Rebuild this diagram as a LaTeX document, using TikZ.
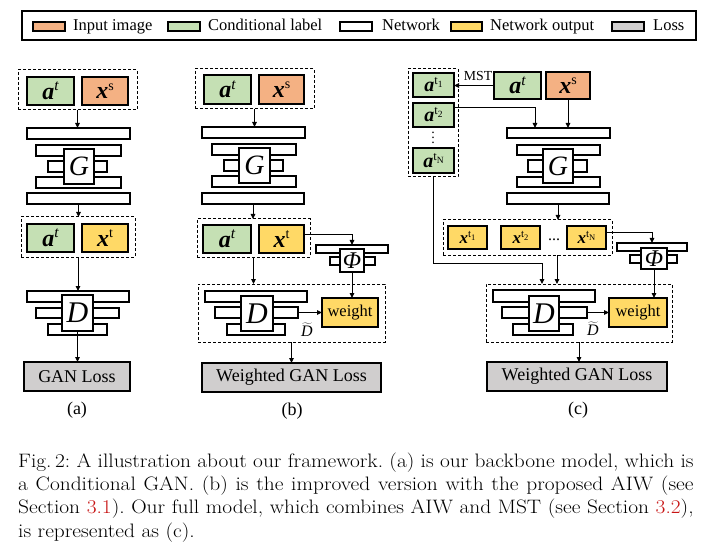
\documentclass[tikz,border=0pt]{standalone}
\usepackage{fontspec}
\newfontfamily\tms{Liberation Serif}
\usetikzlibrary{arrows.meta}
\definecolor{inorange}{HTML}{F4B183}
\definecolor{condgreen}{HTML}{C5E0B4}
\definecolor{netyellow}{HTML}{FFD966}
\definecolor{lossgrey}{HTML}{D0CECE}
\definecolor{linkred}{RGB}{200,20,20}
% box from corners: [style]{name}{x1}{y1}{x2}{y2}{text}
\newcommand\bx[7][]{\node[rect,#1,minimum width={(#5-#3)*1pt},minimum height={(#6-#4)*1pt}] (#2) at ({(#3+#5)/2},{(#4+#6)/2}) {#7};}
\newcommand\lblat{{\fontsize{24}{26}\selectfont\bfseries\itshape a}\raisebox{8.5pt}{\fontsize{15.5}{16}\selectfont\itshape t}}
\newcommand\lblxs{{\fontsize{24}{26}\selectfont\bfseries\itshape x}\raisebox{8.5pt}{\fontsize{14}{15}\selectfont s}}
\newcommand\lblxt{{\fontsize{24}{26}\selectfont\bfseries\itshape x}\raisebox{8.5pt}{\fontsize{14}{15}\selectfont t}}
\newcommand\lblati[1]{{\fontsize{20}{22}\selectfont\bfseries\itshape a}\raisebox{7pt}{\fontsize{12.5}{13}\selectfont t}\raisebox{4pt}{\fontsize{9.5}{10}\selectfont #1}}
\newcommand\lblxti[1]{{\fontsize{17}{19}\selectfont\bfseries\itshape x}\raisebox{6pt}{\fontsize{11}{12}\selectfont t}\raisebox{3.5pt}{\fontsize{8.5}{9}\selectfont #1}}
\newcommand\mydots{\vbox{\baselineskip=5pt\lineskiplimit=0pt\hbox{.}\hbox{.}\hbox{.}}}
\tikzset{
  rect/.style={draw, line width=1.2pt, inner sep=0pt, outer sep=0pt, font=\tms},
  dbox/.style={draw, dash pattern=on 3pt off 2pt, line width=1pt, inner sep=0pt, outer sep=0pt},
  arr/.style={-{Triangle[length=5pt,width=4.5pt]}, line width=1pt},
  lgtext/.style={inner sep=0pt, anchor=base west, font=\tms\fontsize{16.5}{18}\selectfont},
  gfont/.style={font=\tms\itshape\fontsize{28}{30}\selectfont},
  dfont/.style={font=\tms\itshape\fontsize{30}{32}\selectfont},
  pfont/.style={font=\tms\itshape\fontsize{24}{26}\selectfont},
  wfont/.style={font=\tms\fontsize{16.5}{18}\selectfont},
  lfont/.style={font=\tms\fontsize{18}{20}\selectfont},
  sublbl/.style={inner sep=0pt, font=\tms\fontsize{18}{20}\selectfont},
  dtl/.style={inner sep=0pt, font=\tms\itshape\fontsize{16}{18}\selectfont},
}
\begin{document}
\begin{tikzpicture}[x=1pt,y=-1pt]
\useasboundingbox[fill=white] (0,0) rectangle (714,545);
% ---------------- legend
\bx[line width=1.3pt]{leg}{22}{11}{696}{40}{}
\bx[fill=inorange]{sw1}{33}{22}{65}{31}{}
\bx[fill=condgreen]{sw2}{168}{22}{200}{31}{}
\bx[fill=white]{sw3}{340}{22}{372}{31}{}
\bx[fill=netyellow]{sw4}{451}{22}{482}{31}{}
\bx[fill=lossgrey]{sw5}{612}{22}{644}{31}{}
\node[lgtext] (lt1) at (73,31) {Input image};
\node[lgtext] (lt2) at (208,31) {Conditional label};
\node[lgtext] (lt3) at (382,31) {Network};
\node[lgtext] (lt4) at (490,31) {Network output};
\node[lgtext] (lt5) at (653,31) {Loss};
% ---------------- panel (a)
\bx[dbox]{aI}{18}{70}{137}{110}{}
\bx[fill=condgreen]{aA}{27}{77}{74}{105}{\lblat}
\bx[fill=inorange]{aX}{82}{77}{128}{105}{\lblxs}
\bx{aG1}{27}{128}{130}{139}{}
\bx{aG2}{36}{145}{121}{156}{}
\bx{aG3}{48}{161}{107}{172}{}
\bx{aG4}{36}{177}{121}{188}{}
\bx{aG5}{27}{193}{130}{204}{}
\bx[fill=white,gfont]{aG}{64}{149}{94}{184}{G}
\draw[arr] (aI.south) -- (aI.south |- aG1.north);
\bx[dbox]{aO}{21}{217}{135}{257}{}
\draw[arr] (aG5.south) -- (aG5.south |- aO.north);
\bx[fill=condgreen]{aA2}{27}{224}{74}{252}{\lblat}
\bx[fill=netyellow]{aX2}{82}{224}{128}{252}{\lblxt}
\bx{aD1}{27}{291}{129}{302}{}
\bx{aD2}{36}{308}{119}{318}{}
\bx{aD3}{48}{324}{107}{335}{}
\bx[fill=white,dfont]{aD}{62}{295}{93}{331}{D}
\draw[arr] (aO.south) -- (aO.south |- aD1.north);
\bx[fill=lossgrey,lfont]{aL}{24}{362}{130}{391}{GAN Loss}
\draw[arr] (aD.south) -- (aD.south |- aL.north);
\node[sublbl] (aCap) at (77,410) {(a)};
% ---------------- panel (b)
\bx[dbox]{bI}{195}{69}{314}{109}{}
\bx[fill=condgreen]{bA}{204}{75}{251}{104}{\lblat}
\bx[fill=inorange]{bX}{259}{75}{304}{104}{\lblxs}
\bx{bG1}{202}{127}{305}{138}{}
\bx{bG2}{212}{144}{296}{155}{}
\bx{bG3}{224}{160}{283}{171}{}
\bx{bG4}{212}{176}{296}{187}{}
\bx{bG5}{202}{193}{304}{204}{}
\bx[fill=white,gfont]{bG}{239}{148}{270}{183}{G}
\draw[arr] (bI.south) -- (bI.south |- bG1.north);
\bx[dbox]{bO}{197}{219}{310}{257}{}
\draw[arr] (bG5.south) -- (bG5.south |- bO.north);
\bx[fill=condgreen]{bA2}{203}{225}{251}{253}{\lblat}
\bx[fill=netyellow]{bX2}{259}{225}{304}{253}{\lblxt}
\bx{bP1}{316}{245}{388}{253}{}
\bx{bP2}{330}{257}{375}{265}{}
\bx[fill=white,pfont]{bP}{340}{249}{364}{272}{Φ}
\draw[arr] ([yshift=4pt]bX2.east) -| (bP1.north);
\bx[dbox]{bB}{198}{284}{385}{342}{}
\draw[arr] (bO.south) -- (bO.south |- bB.north);
\bx{bD1}{205}{291}{307}{302}{}
\bx{bD2}{215}{307}{298}{318}{}
\bx{bD3}{227}{324}{285}{335}{}
\bx[fill=white,dfont]{bD}{241}{296}{273}{331}{D}
\bx[fill=netyellow,wfont]{bW}{322}{298}{378}{327}{weight}
\draw[arr] (bD2.east) -- (bW.west);
\draw[arr] (bP.south) -- (bP.south |- bW.north);
\node[dtl] (bDt) at (307,330) {$\widetilde{\mbox{\tms\itshape D}}$};
\bx[fill=lossgrey,lfont]{bL}{202}{363}{381}{392}{Weighted GAN Loss}
\draw[arr] (bB.south) -- (bB.south |- bL.north);
\node[sublbl] (bCap) at (292,411) {(b)};
% ---------------- panel (c)
\bx[dbox]{cI}{408}{69}{458}{177}{}
\bx[fill=condgreen]{c1}{413}{73}{454}{97}{\lblati{1}}
\bx[fill=condgreen]{c2}{413}{103}{454}{127}{\lblati{2}}
\bx[fill=condgreen]{cN}{413}{148}{454}{173}{\lblati{N}}
\node[inner sep=0pt, font=\tms\fontsize{14}{15}\selectfont] (cvd) at (433,138) {\mydots};
\bx[fill=condgreen]{cA}{494}{72}{541}{99}{\lblat}
\bx[fill=inorange]{cX}{546}{72}{590}{99}{\lblxs}
\draw[arr] (cA.west) -- (cA.west -| c1.east);
\node[inner sep=0pt, font=\tms\fontsize{13.8}{15}\selectfont] (mst) at (478,76) {MST};
\bx{cG1}{507}{128}{610}{138}{}
\bx{cG2}{517}{145}{600}{155}{}
\bx{cG3}{528}{160}{587}{172}{}
\bx{cG4}{517}{177}{600}{187}{}
\bx{cG5}{507}{193}{609}{204}{}
\bx[fill=white,gfont]{cG}{543}{149}{573}{183}{G}
\coordinate (cj1) at (535,128);
\draw[arr] ([yshift=7pt]c2.east) -| (cj1);
\draw[arr] (cX.south) -- (cX.south |- cG1.north);
\bx[dbox]{cO}{443}{220}{612}{255}{}
\draw[arr] (cG5.south) -- (cG5.south |- cO.north);
\bx[fill=netyellow]{cx1}{448}{226}{487}{249}{\lblxti{1}}
\bx[fill=netyellow]{cx2}{501}{226}{540}{249}{\lblxti{2}}
\bx[fill=netyellow]{cxN}{567}{226}{606}{249}{\lblxti{N}}
\node[inner sep=0pt, font=\tms\fontsize{16}{18}\selectfont] (cdd) at (554,240) {...};
\bx{cP1}{617}{243}{687}{251}{}
\bx{cP2}{630}{255}{677}{263}{}
\bx[fill=white,pfont]{cP}{641}{248}{667}{269}{Φ}
\draw[arr] ([yshift=4.5pt]cxN.east) -| (cP1.north);
\bx[dbox]{cB}{486}{284}{672}{342}{}
\coordinate (cj2) at (542,263);
\draw[arr] (cI.south) |- (cj2) -- (cj2 |- cB.north);
\coordinate (cj3) at (557,255);
\draw[arr] (cj3) -- (cj3 |- cB.north);
\bx{cD1}{493}{290}{595}{302}{}
\bx{cD2}{502}{307}{587}{318}{}
\bx{cD3}{513}{324}{573}{335}{}
\bx[fill=white,dfont]{cD}{529}{296}{559}{331}{D}
\bx[fill=netyellow,wfont]{cW}{609}{298}{667}{327}{weight}
\draw[arr] (cD2.east) -- (cW.west);
\draw[arr] (cP.south) -- (cP.south |- cW.north);
\node[dtl] (cDt) at (593,329) {$\widetilde{\mbox{\tms\itshape D}}$};
\bx[fill=lossgrey,lfont]{cL}{487}{362}{667}{391}{Weighted GAN Loss}
\draw[arr] (cB.south) -- (cB.south |- cL.north);
\node[sublbl] (cCap) at (578,410) {(c)};
% ---------------- caption
\node[anchor=north west, inner sep=0pt] (cap) at (18,452.5)
{\scalebox{1.1}[1]{\parbox[t]{614pt}{\fontsize{19.45}{23.35}\selectfont\frenchspacing\noindent
Fig.\,2: A illustration about our framework. (a) is our backbone model, which is\linebreak
a Conditional GAN. (b) is the improved version with the proposed AIW (see\linebreak
Section \textcolor{linkred}{3.1}). Our full model, which combines AIW and MST (see Section \textcolor{linkred}{3.2}),\linebreak
is represented as (c).}}};
\end{tikzpicture}
\end{document}
